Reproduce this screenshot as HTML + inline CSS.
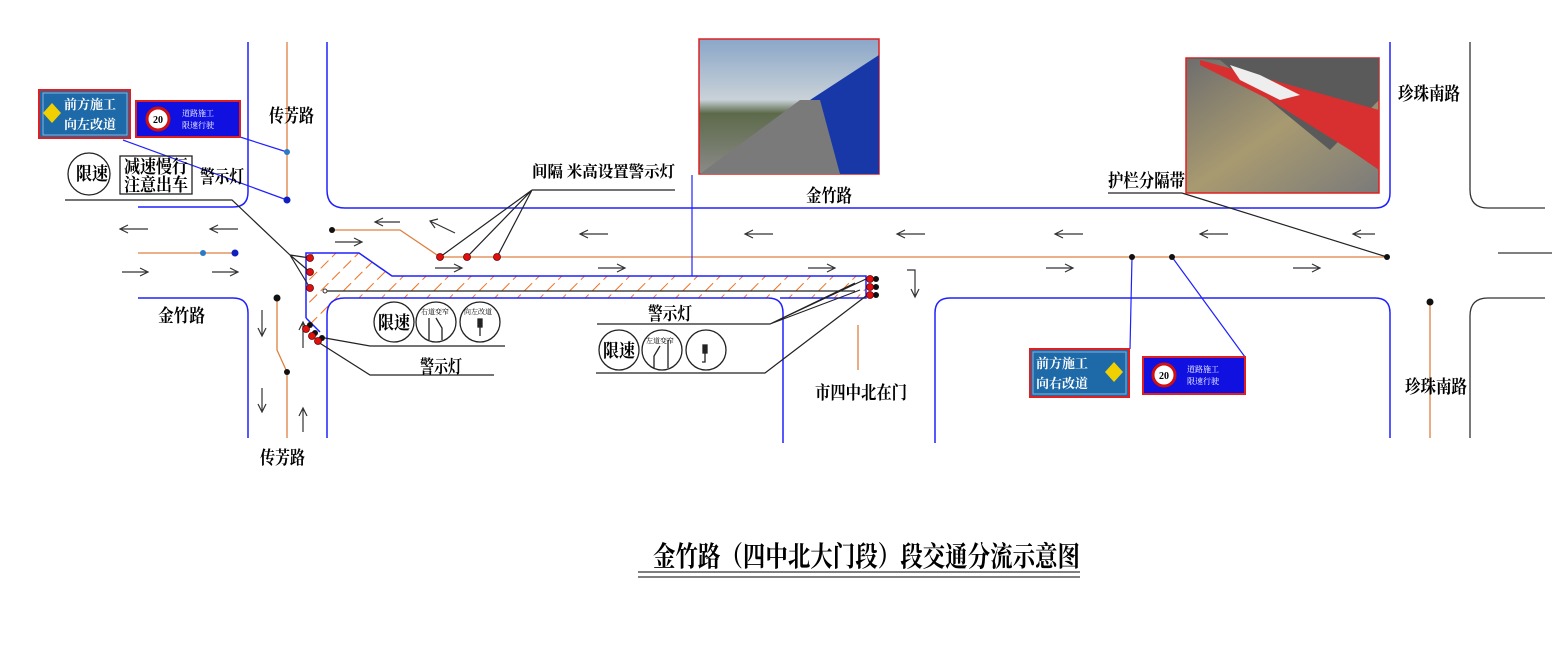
<!DOCTYPE html>
<html><head><meta charset="utf-8"><style>
html,body{margin:0;padding:0;background:#fff;}
svg{display:block;font-family:"Liberation Serif","Noto Serif CJK SC","Noto Sans CJK SC",serif;}
</style></head><body>
<svg width="1560" height="645" viewBox="0 0 1560 645" xmlns="http://www.w3.org/2000/svg">
<defs>
<pattern id="hatch" width="16" height="16" patternUnits="userSpaceOnUse" patternTransform="rotate(45)">
<line x1="0" y1="0" x2="0" y2="11" stroke="#f07020" stroke-width="2"/>
</pattern>
<linearGradient id="sky" x1="0" y1="0" x2="0" y2="1"><stop offset="0" stop-color="#8aa6c8"/><stop offset="0.45" stop-color="#c9d2d8"/><stop offset="0.55" stop-color="#5d6a4a"/><stop offset="1" stop-color="#8a8a88"/></linearGradient>
<linearGradient id="road2" x1="0" y1="0" x2="1" y2="1"><stop offset="0" stop-color="#6d6d6d"/><stop offset="0.5" stop-color="#a89a70"/><stop offset="1" stop-color="#7a7a7a"/></linearGradient>
</defs>

<polygon points="306,253 359,253 392,276 866,276 866,298 345,298 327,315 327,330 318,330 306,318" fill="url(#hatch)"/>
<path d="M306,318 V253 H359 L392,276 H866 V298 H780" fill="none" stroke="#2020ff" stroke-width="1.5"/>
<line x1="306" y1="318" x2="320" y2="332" stroke="#2020ff" stroke-width="1.5"/>

<g fill="none" stroke="#2020ff" stroke-width="1.5">
<path d="M248,42 V192 Q248,207 233,207 H138"/>
<path d="M327,42 V190 Q327,208 345,208 H1375 Q1390,208 1390,193 V42"/>
<path d="M138,298 H233 Q248,298 248,313 V438"/>
<path d="M327,438 V315 Q327,298 345,298 H768 Q783,298 783,313 V443"/>
<path d="M935,443 V313 Q935,298 950,298 H1375 Q1390,298 1390,313 V438"/>
</g>
<g fill="none" stroke="#333" stroke-width="1.3">
<path d="M1470,42 V190 Q1470,208 1488,208 H1545"/>
<line x1="1498" y1="253" x2="1552" y2="253"/>
<path d="M1545,298 H1488 Q1470,298 1470,316 V438"/>
</g>

<g fill="none" stroke="#e08040" stroke-width="1.3">
<line x1="138" y1="253" x2="235" y2="253"/>
<path d="M332,230 H400 L440,257 H1387"/>
<line x1="287" y1="42" x2="287" y2="200"/>
<path d="M277,298 V350 L287,372 V438"/>
<line x1="1430" y1="302" x2="1430" y2="438"/>
<line x1="858" y1="325" x2="858" y2="370"/>
</g>
<line x1="325" y1="291" x2="855" y2="291" stroke="#222" stroke-width="1.2"/>
<circle cx="325" cy="291" r="2" fill="#fff" stroke="#333"/>

<g fill="none" stroke="#333" stroke-width="1.2">
<path d="M148,229 H120 M128,225 L120,229 L128,233"/>
<path d="M238,229 H210 M218,225 L210,229 L218,233"/>
<path d="M122,272 H148 M140,268 L148,272 L140,276"/>
<path d="M212,272 H238 M230,268 L238,272 L230,276"/>
<path d="M400,222 H375 M383,218 L375,222 L383,226"/>
<path d="M455,233 L430,221 M438,219 L430,221 L435,228"/>
<path d="M335,242 H362 M354,238 L362,242 L354,246"/>
<path d="M608,234 H580 M588,230 L580,234 L588,238"/>
<path d="M773,234 H745 M753,230 L745,234 L753,238"/>
<path d="M925,234 H897 M905,230 L897,234 L905,238"/>
<path d="M1083,234 H1055 M1063,230 L1055,234 L1063,238"/>
<path d="M1228,234 H1200 M1208,230 L1200,234 L1208,238"/>
<path d="M1375,234 H1353 M1361,230 L1353,234 L1361,238"/>
<path d="M435,268 H462 M454,264 L462,268 L454,272"/>
<path d="M598,268 H625 M617,264 L625,268 L617,272"/>
<path d="M808,268 H835 M827,264 L835,268 L827,272"/>
<path d="M1046,268 H1073 M1065,264 L1073,268 L1065,272"/>
<path d="M1293,268 H1320 M1312,264 L1320,268 L1312,272"/>
<path d="M262,310 V336 M258,328 L262,336 L266,328"/>
<path d="M262,388 V412 M258,404 L262,412 L266,404"/>
<path d="M303,348 V322 M299,330 L303,322 L307,330"/>
<path d="M303,432 V408 M299,416 L303,408 L307,416"/>
<path d="M907,270 H915 V297 M911,289 L915,297 L919,289"/>
</g>

<g fill="none" stroke="#222" stroke-width="1.2">
<path d="M65,200 H232 L290,255"/>
<path d="M290,255 L310,258 M290,255 L310,272 M290,255 L310,288"/>
<path d="M532,190 L440,257 M532,190 L467,257 M532,190 L497,257"/>
<path d="M532,190 H675"/>
<path d="M325,338 L370,346 H505"/>
<path d="M318,342 L370,375 H494"/>
<path d="M597,324 H770 L855,283 M770,324 L866,279 M770,324 L860,290"/>
<path d="M596,373 H765 L866,296"/>
<path d="M1182,193 L1387,257"/>
</g>
<line x1="1108" y1="193" x2="1182" y2="193" stroke="#222" stroke-width="1.2"/>

<g fill="none" stroke="#2020ff" stroke-width="1.2">
<path d="M240,137 L287,152"/>
<path d="M123,140 L287,200"/>
<line x1="692" y1="175" x2="692" y2="276"/>
<path d="M1132,257 L1130,349"/>
<path d="M1172,257 L1245,357"/>
</g>

<g fill="#111">
<circle cx="332" cy="230" r="3"/><circle cx="1132" cy="257" r="3"/><circle cx="1172" cy="257" r="3"/><circle cx="1387" cy="257" r="3"/>
<circle cx="277" cy="298" r="3.5"/><circle cx="287" cy="372" r="3"/><circle cx="1430" cy="302" r="3.5"/>
<circle cx="876" cy="279" r="3"/><circle cx="876" cy="287" r="3"/><circle cx="876" cy="295" r="3"/>
<circle cx="310" cy="325" r="3"/><circle cx="315" cy="333" r="3"/><circle cx="322" cy="338" r="3"/>
</g>
<circle cx="235" cy="253" r="3.5" fill="#1020c0"/><circle cx="203" cy="253" r="3" fill="#2a7ac8"/>
<circle cx="287" cy="152" r="3" fill="#2a7ac8"/><circle cx="287" cy="200" r="3.5" fill="#1020c0"/>
<g fill="#e01010" stroke="#600" stroke-width="0.8">
<circle cx="310" cy="258" r="3.5"/><circle cx="310" cy="272" r="3.5"/><circle cx="310" cy="288" r="3.5"/>
<circle cx="440" cy="257" r="3.5"/><circle cx="467" cy="257" r="3.5"/><circle cx="497" cy="257" r="3.5"/>
<circle cx="870" cy="279" r="3.5"/><circle cx="870" cy="287" r="3.5"/><circle cx="870" cy="295" r="3.5"/>
<circle cx="306" cy="329" r="3.5"/><circle cx="312" cy="336" r="3.5"/><circle cx="318" cy="341" r="3.5"/>
</g>

<rect x="39" y="90" width="91" height="48" fill="#1e6aa8" stroke="#e02020" stroke-width="2"/>
<rect x="43" y="93" width="84" height="42" fill="none" stroke="#8ab0d8" stroke-width="1"/>
<polygon points="52,103 61,113 52,123 43,113" fill="#f0d000"/>
<text x="64" y="109" font-size="13" fill="#fff" font-weight="bold">前方施工</text>
<text x="64" y="129" font-size="13" fill="#fff" font-weight="bold">向左改道</text>
<rect x="136" y="101" width="104" height="36" fill="#1010e0" stroke="#e02020" stroke-width="2"/>
<circle cx="158" cy="119" r="11" fill="#fff" stroke="#d01010" stroke-width="3"/>
<text x="158" y="123" font-size="10" text-anchor="middle" font-weight="bold">20</text>
<text x="182" y="116" font-size="8" fill="#fff">道路施工</text>
<text x="182" y="128" font-size="8" fill="#fff">限速行驶</text>

<rect x="1030" y="349" width="99" height="48" fill="#1e6aa8" stroke="#e02020" stroke-width="2"/>
<rect x="1033" y="352" width="93" height="42" fill="none" stroke="#8ab0d8" stroke-width="1"/>
<polygon points="1114,362 1123,372 1114,382 1105,372" fill="#f0d000"/>
<text x="1036" y="368" font-size="13" fill="#fff" font-weight="bold">前方施工</text>
<text x="1036" y="388" font-size="13" fill="#fff" font-weight="bold">向右改道</text>
<rect x="1143" y="357" width="102" height="37" fill="#1010e0" stroke="#e02020" stroke-width="2"/>
<circle cx="1164" cy="375" r="11" fill="#fff" stroke="#d01010" stroke-width="3"/>
<text x="1164" y="379" font-size="10" text-anchor="middle" font-weight="bold">20</text>
<text x="1187" y="372" font-size="8" fill="#fff">道路施工</text>
<text x="1187" y="384" font-size="8" fill="#fff">限速行驶</text>

<rect x="699" y="39" width="180" height="135" fill="url(#sky)" stroke="#e02020" stroke-width="1.5"/>
<polygon points="810,100 879,55 879,174 840,174" fill="#1838a8"/>
<polygon points="700,174 800,100 820,100 840,174" fill="#7a7a7a"/>
<rect x="1186" y="58" width="193" height="135" fill="url(#road2)" stroke="#e02020" stroke-width="1.5"/>
<polygon points="1186,58 1379,58 1379,100 1330,150 1220,60" fill="#5a5a5a"/>
<polygon points="1200,60 1379,110 1379,170 1350,150 1270,100 1200,65" fill="#d83030"/>
<polygon points="1230,65 1260,75 1300,95 1280,100 1240,80" fill="#eee"/>

<g fill="none" stroke="#222" stroke-width="1.3">
<circle cx="89" cy="174" r="21"/>
<rect x="120" y="156" width="72" height="38"/>
<circle cx="394" cy="322" r="20"/><circle cx="436" cy="322" r="20"/><circle cx="480" cy="322" r="20"/>
<circle cx="619" cy="350" r="20"/><circle cx="662" cy="350" r="20"/><circle cx="706" cy="350" r="20"/>
<path d="M429,340 V318 M442,340 V328 L436,318"/>
<path d="M654,368 V356 L660,346 M668,368 V340"/>
<rect x="703" y="345" width="4" height="8" fill="#222"/><path d="M705,353 V362 H702"/>
<rect x="478" y="319" width="4" height="8" fill="#222"/><path d="M480,327 V336"/>
</g>
<g font-size="18" fill="#000" font-weight="bold" lengthAdjust="spacingAndGlyphs">
<text x="76" y="180" textLength="32" lengthAdjust="spacingAndGlyphs">限速</text>
<text x="124" y="173" textLength="64" lengthAdjust="spacingAndGlyphs">减速慢行</text>
<text x="124" y="191" textLength="64" lengthAdjust="spacingAndGlyphs">注意出车</text>
<text x="378" y="329" textLength="32" lengthAdjust="spacingAndGlyphs">限速</text>
<text x="603" y="357" textLength="32" lengthAdjust="spacingAndGlyphs">限速</text>
<text x="200" y="183" textLength="44" lengthAdjust="spacingAndGlyphs">警示灯</text>
<text x="420" y="373" textLength="42" lengthAdjust="spacingAndGlyphs">警示灯</text>
<text x="648" y="320" textLength="44" lengthAdjust="spacingAndGlyphs">警示灯</text>
<text x="269" y="122" textLength="45" lengthAdjust="spacingAndGlyphs">传芳路</text>
<text x="260" y="464" textLength="45" lengthAdjust="spacingAndGlyphs">传芳路</text>
<text x="158" y="322" textLength="47" lengthAdjust="spacingAndGlyphs">金竹路</text>
<text x="806" y="202" textLength="46" lengthAdjust="spacingAndGlyphs">金竹路</text>
<text x="1398" y="100" textLength="62" lengthAdjust="spacingAndGlyphs">珍珠南路</text>
<text x="1405" y="393" textLength="62" lengthAdjust="spacingAndGlyphs">珍珠南路</text>
<text x="815" y="399" textLength="92" lengthAdjust="spacingAndGlyphs">市四中北在门</text>
<text x="1108" y="187" textLength="77" lengthAdjust="spacingAndGlyphs">护栏分隔带</text>
<text x="532" y="177" font-size="16" textLength="143" lengthAdjust="spacingAndGlyphs">间隔 米高设置警示灯</text>
</g>
<g font-size="7" fill="#000"><text x="421" y="314">右道变窄</text><text x="464" y="314">向左改道</text><text x="646" y="343">左道变窄</text></g>

<text x="653" y="566" font-size="28" fill="#000" font-weight="bold" textLength="427" lengthAdjust="spacingAndGlyphs">金竹路（四中北大门段）段交通分流示意图</text>
<line x1="638" y1="572" x2="1080" y2="572" stroke="#333" stroke-width="1.2"/>
<line x1="638" y1="577" x2="1080" y2="577" stroke="#333" stroke-width="1.2"/>
</svg>
</body></html>
